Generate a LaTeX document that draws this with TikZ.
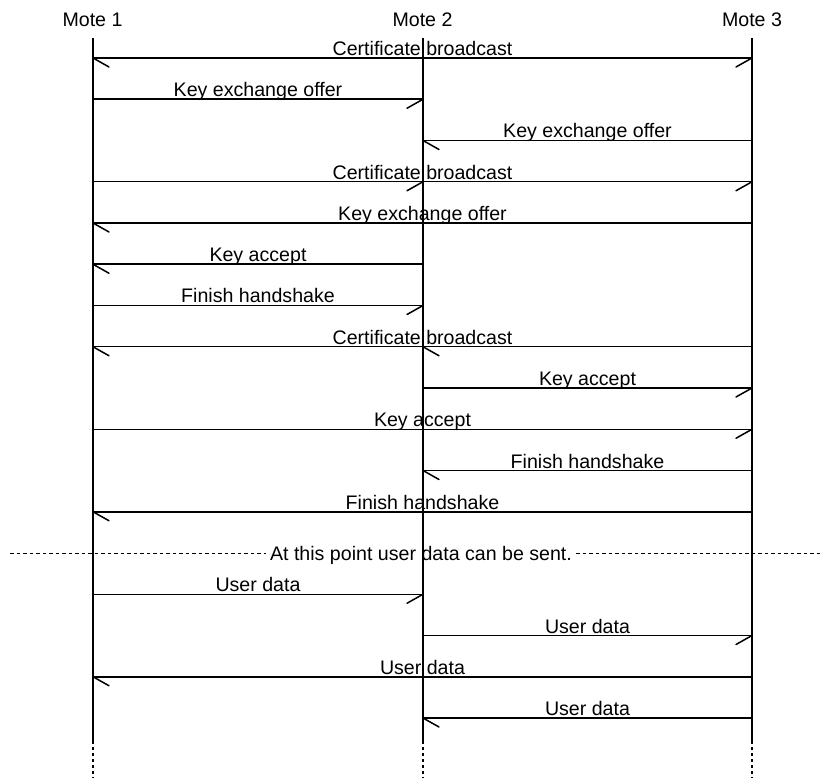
\documentclass[tikz,border=0pt]{standalone}
\usepackage{fontspec}
\setmainfont{Liberation Sans}
\usetikzlibrary{calc}
\begin{document}
\begin{tikzpicture}[x=1pt,y=-1pt,
  every node/.style={font=\fontsize{19.6}{23}\selectfont, inner sep=0pt},
  mote/.style={anchor=base},
  life/.style={line width=1.6pt},
  lifedot/.style={line width=1.6pt, dash pattern=on 3pt off 3pt},
  msgline/.style={line width=1.5pt},
  lbl/.style={anchor=base, yshift=2.5pt},
  barb/.style={line width=1.5pt, line cap=round},
  divline/.style={line width=1.2pt, dash pattern=on 3.5pt off 3pt}]
\useasboundingbox (0,0) rectangle (823,778);
% entities
\node[mote] (M1) at (92.5,26.5) {Mote 1};
\node[mote] (M2) at (422.5,26.5) {Mote 2};
\node[mote] (M3) at (752,26.5) {Mote 3};
\foreach \i/\x in {1/93,2/423,3/752}{
  \coordinate (L\i) at (\x,38.5);
  \coordinate (E\i) at (\x,741);
  \coordinate (B\i) at (\x,778);
  \draw[life] (L\i) -- (E\i);
  \draw[lifedot] (E\i) -- (B\i);
}
% rows
\foreach \r in {1,...,17}{
  \coordinate (r\r) at (0,{58+41.25*(\r-1)});
}
% 1 Certificate broadcast from Mote 2
\draw[msgline] (L1|-r1) -- node[lbl]{Certificate broadcast} (L3|-r1);
\draw[barb] (L1|-r1) -- ++(16,9);
\draw[barb] (L3|-r1) -- ++(-16,9);
% 2 Key exchange offer 1->2
\draw[msgline] (L1|-r2) -- node[lbl]{Key exchange offer} (L2|-r2);
\draw[barb] (L2|-r2) -- ++(-16,9);
% 3 Key exchange offer 3->2
\draw[msgline] (L3|-r3) -- node[lbl]{Key exchange offer} (L2|-r3);
\draw[barb] (L2|-r3) -- ++(16,9);
% 4 Certificate broadcast from Mote 1
\draw[msgline] (L1|-r4) -- node[lbl]{Certificate broadcast} (L3|-r4);
\draw[barb] (L2|-r4) -- ++(-16,9);
\draw[barb] (L3|-r4) -- ++(-16,9);
% 5 Key exchange offer 3->1
\draw[msgline] (L3|-r5) -- node[lbl]{Key exchange offer} (L1|-r5);
\draw[barb] (L1|-r5) -- ++(16,9);
% 6 Key accept 2->1
\draw[msgline] (L2|-r6) -- node[lbl]{Key accept} (L1|-r6);
\draw[barb] (L1|-r6) -- ++(16,9);
% 7 Finish handshake 1->2
\draw[msgline] (L1|-r7) -- node[lbl]{Finish handshake} (L2|-r7);
\draw[barb] (L2|-r7) -- ++(-16,9);
% 8 Certificate broadcast from Mote 3
\draw[msgline] (L3|-r8) -- node[lbl]{Certificate broadcast} (L1|-r8);
\draw[barb] (L2|-r8) -- ++(16,9);
\draw[barb] (L1|-r8) -- ++(16,9);
% 9 Key accept 2->3
\draw[msgline] (L2|-r9) -- node[lbl]{Key accept} (L3|-r9);
\draw[barb] (L3|-r9) -- ++(-16,9);
% 10 Key accept 1->3
\draw[msgline] (L1|-r10) -- node[lbl]{Key accept} (L3|-r10);
\draw[barb] (L3|-r10) -- ++(-16,9);
% 11 Finish handshake 3->2
\draw[msgline] (L3|-r11) -- node[lbl]{Finish handshake} (L2|-r11);
\draw[barb] (L2|-r11) -- ++(16,9);
% 12 Finish handshake 3->1
\draw[msgline] (L3|-r12) -- node[lbl]{Finish handshake} (L1|-r12);
\draw[barb] (L1|-r12) -- ++(16,9);
% 13 divider
\node[anchor=base, inner xsep=4pt] (div) at (421,560) {At this point user data can be sent.};
\coordinate (dl) at (10,553.3);
\coordinate (dr) at (823,553.3);
\draw[divline] (dl) -- (dl -| div.west);
\draw[divline] (div.east |- dr) -- (dr);
% 14 User data 1->2
\draw[msgline] (L1|-r14) -- node[lbl]{User data} (L2|-r14);
\draw[barb] (L2|-r14) -- ++(-16,9);
% 15 User data 2->3
\draw[msgline] (L2|-r15) -- node[lbl]{User data} (L3|-r15);
\draw[barb] (L3|-r15) -- ++(-16,9);
% 16 User data 3->1
\draw[msgline] (L3|-r16) -- node[lbl]{User data} (L1|-r16);
\draw[barb] (L1|-r16) -- ++(16,9);
% 17 User data 3->2
\draw[msgline] (L3|-r17) -- node[lbl]{User data} (L2|-r17);
\draw[barb] (L2|-r17) -- ++(16,9);
\end{tikzpicture}
\end{document}
